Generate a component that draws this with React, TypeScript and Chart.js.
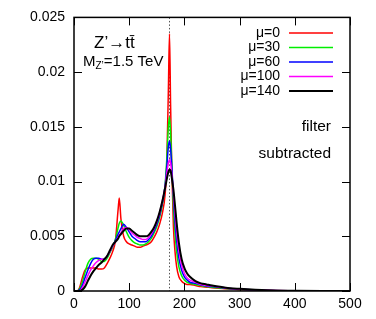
import React, { useEffect, useRef } from "react";
import { Chart, registerables } from "chart.js";

Chart.register(...registerables);

const xValues = [0, 5, 10, 15, 20, 25, 30, 35, 40, 45, 50, 55, 60, 65, 70, 75, 80, 82, 85, 90, 95, 100, 105, 110, 115, 120, 125, 130, 135, 140, 145, 150, 155, 160, 165, 168, 171, 173, 175, 177, 180, 183, 186, 190, 195, 200, 205, 210, 220, 230, 240, 250, 275, 300, 350, 400, 450, 500];

const mu0 = [0, 0, 0.0003, 0.0012, 0.0019, 0.0021, 0.0021, 0.0021, 0.0021, 0.002, 0.002, 0.0021, 0.0025, 0.003, 0.0036, 0.0046, 0.0075, 0.0085, 0.0066, 0.005, 0.0045, 0.0043, 0.0042, 0.0041, 0.004, 0.004, 0.0041, 0.0042, 0.0043, 0.0045, 0.0049, 0.0054, 0.0061, 0.0071, 0.0088, 0.0115, 0.0185, 0.0235, 0.017, 0.0115, 0.006, 0.0036, 0.0022, 0.0013, 0.0009, 0.0007, 0.0006, 0.0006, 0.0005, 0.0004, 0.00035, 0.0003, 0.0002, 0.00012, 0.00004, 0.00001, 0, 0];
const mu30 = [0, 0, 0.0002, 0.0008, 0.0017, 0.0025, 0.0029, 0.003, 0.003, 0.0029, 0.0027, 0.0027, 0.003, 0.0035, 0.004, 0.0047, 0.0058, 0.0062, 0.0064, 0.006, 0.0054, 0.0049, 0.0046, 0.0044, 0.0043, 0.0042, 0.0042, 0.0043, 0.0045, 0.0048, 0.0053, 0.0059, 0.0067, 0.0079, 0.0097, 0.012, 0.015, 0.0159, 0.0145, 0.0118, 0.0078, 0.0053, 0.0036, 0.0022, 0.0014, 0.001, 0.0008, 0.0007, 0.0006, 0.0005, 0.0004, 0.00035, 0.00022, 0.00013, 0.00004, 0.00001, 0, 0];
const mu60 = [0, 0, 0.0001, 0.0005, 0.0012, 0.0019, 0.0025, 0.0029, 0.003, 0.003, 0.0029, 0.0029, 0.0032, 0.0036, 0.0041, 0.0046, 0.0052, 0.0054, 0.0057, 0.0061, 0.0058, 0.0054, 0.005, 0.0048, 0.0046, 0.0045, 0.0045, 0.0045, 0.0047, 0.005, 0.0055, 0.0061, 0.0069, 0.008, 0.0096, 0.0113, 0.0132, 0.0137, 0.013, 0.0115, 0.0088, 0.0063, 0.0046, 0.003, 0.0019, 0.0013, 0.001, 0.0008, 0.0007, 0.00055, 0.00045, 0.0004, 0.00025, 0.00015, 0.00005, 0.00001, 0, 0];
const mu100 = [0, 0, 0, 0.0003, 0.0008, 0.0014, 0.0019, 0.0023, 0.0026, 0.0028, 0.0029, 0.0029, 0.0032, 0.0036, 0.0041, 0.0045, 0.0049, 0.0051, 0.0053, 0.0057, 0.0058, 0.0056, 0.0053, 0.0051, 0.0049, 0.0048, 0.0047, 0.0047, 0.0049, 0.0052, 0.0057, 0.0063, 0.0071, 0.0082, 0.0095, 0.0107, 0.0117, 0.012, 0.0117, 0.0108, 0.009, 0.0071, 0.0054, 0.0037, 0.0024, 0.0016, 0.0012, 0.001, 0.0008, 0.0006, 0.0005, 0.00045, 0.00028, 0.00017, 0.00006, 0.00002, 0, 0];
const mu140 = [0, 0, 0, 0.0001, 0.0004, 0.0009, 0.0014, 0.0018, 0.0021, 0.0024, 0.0026, 0.0029, 0.0032, 0.0037, 0.0042, 0.0045, 0.0048, 0.005, 0.0052, 0.0055, 0.0057, 0.0057, 0.0055, 0.0053, 0.0051, 0.005, 0.005, 0.005, 0.0051, 0.0054, 0.0058, 0.0064, 0.0072, 0.0082, 0.0094, 0.0102, 0.0109, 0.0111, 0.011, 0.0104, 0.0093, 0.0078, 0.0062, 0.0044, 0.0029, 0.0021, 0.0016, 0.0013, 0.0009, 0.0007, 0.0006, 0.0005, 0.0003, 0.0002, 0.00006, 0.00002, 0, 0];

const seriesLabels = ["\u03bc=0", "\u03bc=30", "\u03bc=60", "\u03bc=100", "\u03bc=140"];
const seriesColors = ["#ff0000", "#00ee00", "#0000ff", "#ff00ff", "#000000"];
const seriesValues = [mu0, mu30, mu60, mu100, mu140];

const xTicks = [0, 100, 200, 300, 400, 500];
const yTicks = [0, 0.005, 0.01, 0.015, 0.02, 0.025];
const yTickLabels = ["0", "0.005", "0.01", "0.015", "0.02", "0.025"];
const topMass = 172.5;

const FONT = "'Liberation Sans', Arial, Helvetica, sans-serif";

export default function App() {
  const ref = useRef<HTMLCanvasElement | null>(null);

  useEffect(() => {
    document.body.style.margin = "0";
    const canvas = ref.current;
    if (!canvas) return;

    const decor = {
      id: "decor",
      beforeDatasetsDraw(chart: any) {
        const ctx = chart.ctx;
        const { top, bottom } = chart.chartArea;
        const xs = chart.scales.x;
        const px = xs.getPixelForValue(topMass);
        ctx.save();
        ctx.strokeStyle = "#555";
        ctx.lineWidth = 1;
        ctx.setLineDash([1.5, 2]);
        ctx.beginPath();
        ctx.moveTo(Math.round(px) + 0.5, top);
        ctx.lineTo(Math.round(px) + 0.5, bottom);
        ctx.stroke();
        ctx.restore();
      },
      afterDraw(chart: any) {
        const ctx = chart.ctx;
        const { left, right, top, bottom } = chart.chartArea;
        const xs = chart.scales.x;
        const ys = chart.scales.y;
        ctx.save();
        ctx.strokeStyle = "#000";
        ctx.lineWidth = 1.5;
        ctx.setLineDash([]);
        ctx.strokeRect(left, top, right - left, bottom - top);
        const tl = 8;
        ctx.lineWidth = 1;
        ctx.beginPath();
        xTicks.forEach((v) => {
          const p = Math.round(xs.getPixelForValue(v)) + 0.5;
          ctx.moveTo(p, bottom);
          ctx.lineTo(p, bottom - tl);
          ctx.moveTo(p, top);
          ctx.lineTo(p, top + tl);
        });
        yTicks.forEach((v) => {
          const p = Math.round(ys.getPixelForValue(v)) + 0.5;
          ctx.moveTo(left, p);
          ctx.lineTo(left + tl, p);
          ctx.moveTo(right, p);
          ctx.lineTo(right - tl, p);
        });
        ctx.stroke();

        // annotation texts
        ctx.fillStyle = "#000";
        ctx.textBaseline = "alphabetic";
        ctx.textAlign = "left";
        ctx.font = `17px ${FONT}`;
        ctx.fillText("Z\u2019\u2192tt\u0304", 94, 48);
        ctx.font = `15px ${FONT}`;
        ctx.fillText("M", 83, 66);
        const mw = ctx.measureText("M").width;
        ctx.font = `10px ${FONT}`;
        ctx.fillText("Z\u2019", 83 + mw, 69);
        const zw = ctx.measureText("Z\u2019").width;
        ctx.font = `15px ${FONT}`;
        ctx.fillText("=1.5 TeV", 83 + mw + zw, 66);

        // legend
        ctx.font = `14px ${FONT}`;
        ctx.textAlign = "right";
        ctx.textBaseline = "middle";
        const legendY = [33, 47.5, 62, 76.5, 91];
        seriesLabels.forEach((lab, i) => {
          ctx.fillStyle = "#000";
          ctx.fillText(lab, 280, legendY[i]);
          ctx.strokeStyle = seriesColors[i];
          ctx.lineWidth = i === 4 ? 1.8 : 1.5;
          ctx.beginPath();
          ctx.moveTo(289, legendY[i]);
          ctx.lineTo(333, legendY[i]);
          ctx.stroke();
        });
        ctx.fillStyle = "#000";
        ctx.font = `15.5px ${FONT}`;
        ctx.fillText("filter", 331, 127);
        ctx.fillText("subtracted", 331, 154);
        ctx.restore();
      },
    };

    const chart = new Chart(canvas, {
      type: "line",
      data: {
        datasets: seriesValues.map((vals, i) => ({
          label: seriesLabels[i],
          data: xValues.map((x, j) => ({ x, y: vals[j] })),
          borderColor: seriesColors[i],
          backgroundColor: seriesColors[i],
          borderWidth: i === 4 ? 2 : 1.5,
          pointRadius: 0,
          cubicInterpolationMode: "monotone" as const,
          fill: false,
          order: 4 - i,
        })),
      },
      options: {
        responsive: false,
        animation: false,
        devicePixelRatio: 1,
        layout: { padding: { top: 17, right: 26, left: 0, bottom: 0 } },
        plugins: {
          legend: { display: false },
          tooltip: { enabled: false },
          title: { display: false },
        },
        scales: {
          x: {
            type: "linear",
            min: 0,
            max: 500,
            ticks: {
              stepSize: 100,
              color: "#000",
              font: { family: FONT, size: 14 },
              padding: 5,
              maxRotation: 0,
            },
            grid: { display: false, drawTicks: false },
            border: { display: false },
            afterFit(s: any) {
              s.height = 28;
            },
          },
          y: {
            type: "linear",
            min: 0,
            max: 0.025,
            ticks: {
              stepSize: 0.005,
              color: "#000",
              font: { family: FONT, size: 14 },
              padding: 9,
              callback: (_v: any, i: number) => yTickLabels[i],
            },
            grid: { display: false, drawTicks: false },
            border: { display: false },
            afterFit(s: any) {
              s.width = 74;
            },
          },
        },
      },
      plugins: [decor],
    });
    return () => chart.destroy();
  }, []);

  return (
    <div style={{ width: 376, height: 319 }}>
      <canvas ref={ref} width={376} height={319} />
    </div>
  );
}
